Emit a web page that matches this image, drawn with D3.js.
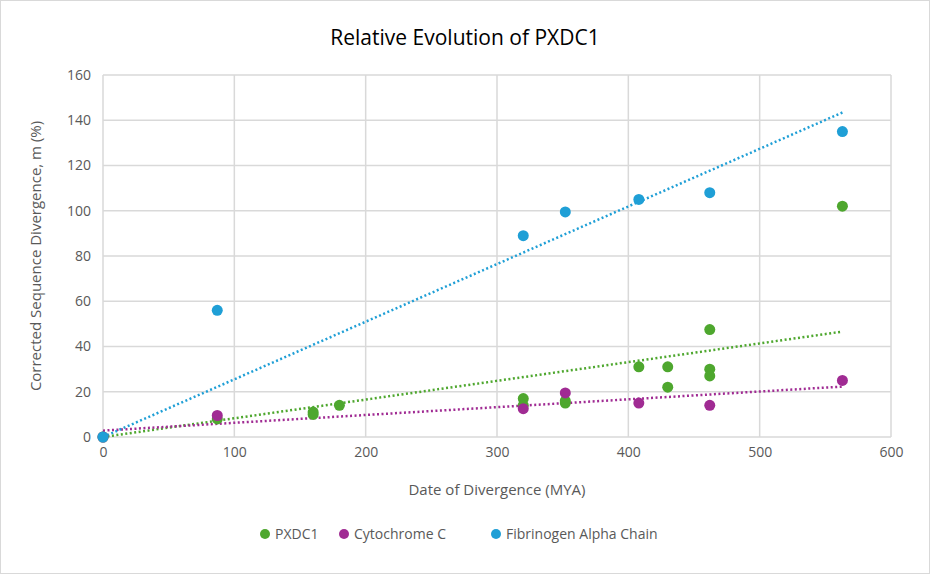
<!DOCTYPE html>
<html><head><meta charset="utf-8">
<script src="https://cdn.jsdelivr.net/npm/d3@7"></script>
<style>body{margin:0;background:#fff;font-family:"Open Sans",Arial,sans-serif}</style>
</head><body><svg id="c" width="930" height="574"></svg>
<script>
const pxdc1 = [[0,0],[87,8],[160,11],[160,10],[180,14],[320,17],[320,14],[352,15],[352,16],[408,31],[430,31],[430,22],[462,47.5],[462,30],[462,27],[563,102]];
const cytC = [[0,0],[87,9.5],[320,12.5],[352,19.5],[408,15],[462,14],[563,25]];
const fib = [[0,0],[87,56],[320,89],[352,99.5],[408,105],[462,108],[563,135]];
const series = [
  {name:"PXDC1", data:pxdc1, color:"#4ea72e", origin:true},
  {name:"Cytochrome C", data:cytC, color:"#a02b93", origin:false},
  {name:"Fibrinogen Alpha Chain", data:fib, color:"#1f9fd6", origin:true}
];
const xTicks = [0,100,200,300,400,500,600];
const yTicks = [0,20,40,60,80,100,120,140,160];

const svg = d3.select("#c");
svg.append("rect").attr("x",0.5).attr("y",0.5).attr("width",929).attr("height",573).attr("fill","#fff").attr("stroke","#d9d9d9");
const x = d3.scaleLinear().domain([0,600]).range([103,891]);
const y = d3.scaleLinear().domain([0,160]).range([437,75]);

svg.append("g").selectAll("line").data(xTicks.slice(1)).join("line")
  .attr("x1",d=>x(d)).attr("x2",d=>x(d)).attr("y1",y(0)).attr("y2",y(160)).attr("stroke","#d9d9d9").attr("stroke-width",1.5);
svg.append("g").selectAll("line").data(yTicks.slice(1)).join("line")
  .attr("x1",x(0)).attr("x2",x(600)).attr("y1",d=>y(d)).attr("y2",d=>y(d)).attr("stroke","#d9d9d9").attr("stroke-width",1.5);
svg.append("line").attr("x1",x(0)).attr("x2",x(600)).attr("y1",y(0)).attr("y2",y(0)).attr("stroke","#d9d9d9").attr("stroke-width",1.5);
svg.append("line").attr("x1",x(0)).attr("x2",x(0)).attr("y1",y(0)).attr("y2",y(160)).attr("stroke","#d9d9d9").attr("stroke-width",1.5);

const xa = svg.append("g").attr("transform",`translate(0,${y(0)})`).call(d3.axisBottom(x).tickValues(xTicks).tickSize(0).tickPadding(10));
const ya = svg.append("g").attr("transform",`translate(${x(0)},0)`).call(d3.axisLeft(y).tickValues(yTicks).tickSize(0).tickPadding(12));
[xa,ya].forEach(a=>{a.select(".domain").remove();a.selectAll("text").attr("font-size",14).attr("fill","#595959").attr("font-family","Open Sans");});

// least squares trendlines (some forced through the origin)
series.forEach(s=>{
  let a, b;
  if (s.origin) {
    a = 0;
    b = d3.sum(s.data,d=>d[0]*d[1])/d3.sum(s.data,d=>d[0]*d[0]);
  } else {
    const mx=d3.mean(s.data,d=>d[0]), my=d3.mean(s.data,d=>d[1]);
    b=d3.sum(s.data,d=>(d[0]-mx)*(d[1]-my))/d3.sum(s.data,d=>(d[0]-mx)**2);
    a=my-b*mx;
  }
  const x1=d3.max(s.data,d=>d[0]);
  svg.append("line").attr("x1",x(0)).attr("y1",y(a)).attr("x2",x(x1)).attr("y2",y(a+b*x1))
    .attr("stroke",s.color).attr("stroke-width",2.5).attr("stroke-dasharray","2,2.5");
});
series.forEach(s=>{
  svg.append("g").selectAll("circle").data(s.data).join("circle")
    .attr("cx",d=>x(d[0])).attr("cy",d=>y(d[1])).attr("r",5.5).attr("fill",s.color);
});

svg.append("text").attr("x",465).attr("y",45).attr("text-anchor","middle").attr("font-size",21).attr("fill","#000").text("Relative Evolution of PXDC1");
svg.append("text").attr("x",x(300)).attr("y",495).attr("text-anchor","middle").attr("font-size",15).attr("fill","#595959").text("Date of Divergence (MYA)");
svg.append("text").attr("transform",`translate(41,${y(80)}) rotate(-90)`).attr("text-anchor","middle").attr("font-size",15).attr("fill","#595959").text("Corrected Sequence Divergence, m (%)");

const lg = svg.append("g");
const lx=[265,344,496];
series.forEach((s,i)=>{
  lg.append("circle").attr("cx",lx[i]).attr("cy",534).attr("r",5).attr("fill",s.color);
  lg.append("text").attr("x",lx[i]+10).attr("y",539).attr("font-size",14).attr("fill","#595959").text(s.name);
});
</script></body></html>
